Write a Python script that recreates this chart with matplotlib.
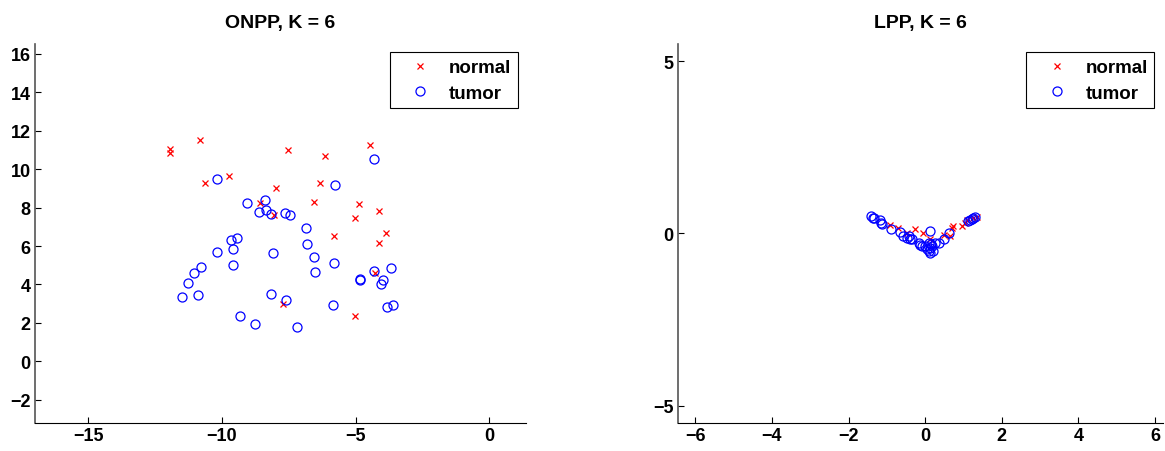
import numpy as np
import matplotlib
matplotlib.use('Agg')
import matplotlib.pyplot as plt

plt.rcParams['font.family'] = ['Liberation Sans', 'DejaVu Sans']
plt.rcParams['font.weight'] = 'bold'

# ONPP, K = 6
onpp_normal_x = [-11.95, -11.93, -10.81, -10.63, -9.75, -7.99, -8.59, -8.07, -7.51, -4.45, -6.14,
                 -6.34, -6.57, -4.86, -4.14, -5.02, -5.80, -3.87, -4.13, -4.29, -7.71, -5.01]
onpp_normal_y = [11.04, 10.83, 11.49, 9.27, 9.62, 9.03, 8.23, 7.62, 11.01, 11.27, 10.69,
                 9.30, 8.28, 8.19, 7.83, 7.47, 6.51, 6.65, 6.16, 4.62, 2.98, 2.34]
onpp_tumor_x = [-10.18, -9.07, -8.40, -8.61, -8.37, -8.17, -9.66, -9.45, -4.32, -5.76, -7.65, -7.46,
                -6.87, -10.20, -9.57, -8.09, -9.59, -10.78, -11.03, -11.26, -10.90, -11.50, -8.17,
                -9.32, -8.77, -6.83, -6.57, -5.82, -6.50, -4.30, -3.66, -4.84, -4.82, -3.98, -4.04,
                -7.59, -5.86, -3.84, -3.61, -7.18]
onpp_tumor_y = [9.50, 8.26, 8.40, 7.76, 7.86, 7.67, 6.32, 6.41, 10.52, 9.18, 7.69, 7.59,
                6.92, 5.68, 5.83, 5.64, 5.02, 4.90, 4.62, 4.10, 3.47, 3.33, 3.52,
                2.34, 1.94, 6.09, 5.43, 5.12, 4.64, 4.70, 4.86, 4.25, 4.27, 4.24, 4.03,
                3.19, 2.92, 2.83, 2.92, 1.77]

# LPP, K = 6
lpp_normal_x = [-0.91, -0.70, -0.48, -0.26, -0.06, 0.13, 0.48, 0.65, 0.70, 0.74, 0.96, 1.04,
                1.10, 1.26, 1.35]
lpp_normal_y = [0.26, 0.16, 0.02, 0.14, 0.02, -0.17, -0.03, -0.08, 0.16, 0.21, 0.23, 0.31,
                0.40, 0.46, 0.47]
lpp_tumor_x = [-1.42, -1.37, -1.33, -1.19, -1.15, -1.13, -0.90, -0.65, -0.58, -0.48, -0.43, -0.39,
               -0.35, -0.17, -0.13, -0.09, 0.00, 0.13, 0.09, 0.13, 0.11, 0.13, 0.05, 0.15,
               0.20, 0.17, 0.26, 0.35, 0.48, 0.61, 1.13, 1.18, 1.22, 1.26, 1.31]
lpp_tumor_y = [0.50, 0.46, 0.44, 0.39, 0.31, 0.27, 0.12, 0.04, -0.06, -0.12, -0.08, -0.15,
               -0.17, -0.27, -0.32, -0.37, -0.37, 0.07, -0.27, -0.42, -0.51, -0.56, -0.45, -0.30,
               -0.50, -0.37, -0.27, -0.27, -0.17, 0.02, 0.36, 0.38, 0.41, 0.46, 0.48]

fig = plt.figure(figsize=(11.65, 4.52), dpi=100)
ax1 = fig.add_axes([0.030, 0.062, 0.4215, 0.8384])
ax2 = fig.add_axes([0.582, 0.062, 0.416, 0.8384])


def draw(ax, nx, ny, tx, ty, title, xlim, ylim, xticks, yticks):
    ax.plot(nx, ny, 'x', color='red', markersize=4.5, markeredgewidth=0.9, label='normal')
    ax.plot(tx, ty, 'o', color='blue', markerfacecolor='none', markersize=6.5,
            markeredgewidth=0.9, label='tumor')
    ax.set_xlim(xlim)
    ax.set_ylim(ylim)
    ax.set_xticks(xticks)
    ax.set_yticks(yticks)
    ax.set_xticklabels([str(v).replace('-', '\u2212') for v in xticks])
    ax.set_yticklabels([str(v).replace('-', '\u2212') for v in yticks])
    ax.spines['top'].set_visible(False)
    ax.spines['right'].set_visible(False)
    ax.spines['left'].set_color('#555555')
    ax.spines['left'].set_linewidth(1.2)
    ax.tick_params(direction='in', length=4, width=0.8, labelsize=13, pad=3)
    for lab in ax.get_xticklabels() + ax.get_yticklabels():
        lab.set_fontweight('bold')
    ax.set_title(title, fontsize=14, fontweight='bold', pad=12)
    leg = ax.legend(loc='upper right', fancybox=False, edgecolor='black', framealpha=1,
                    prop={'weight': 'bold', 'size': 13.5}, borderaxespad=0.45,
                    handletextpad=0.2, borderpad=0.35, labelspacing=0.45, handlelength=2.6)
    leg.get_frame().set_linewidth(0.8)


draw(ax1, onpp_normal_x, onpp_normal_y, onpp_tumor_x, onpp_tumor_y, 'ONPP, K = 6',
     (-17, 1.38), (-3.2, 16.5), [-15, -10, -5, 0], [-2, 0, 2, 4, 6, 8, 10, 12, 14, 16])
draw(ax2, lpp_normal_x, lpp_normal_y, lpp_tumor_x, lpp_tumor_y, 'LPP, K = 6',
     (-6.45, 6.2), (-5.5, 5.5), [-6, -4, -2, 0, 2, 4, 6], [-5, 0, 5])

fig.savefig('out.png', dpi=100)
